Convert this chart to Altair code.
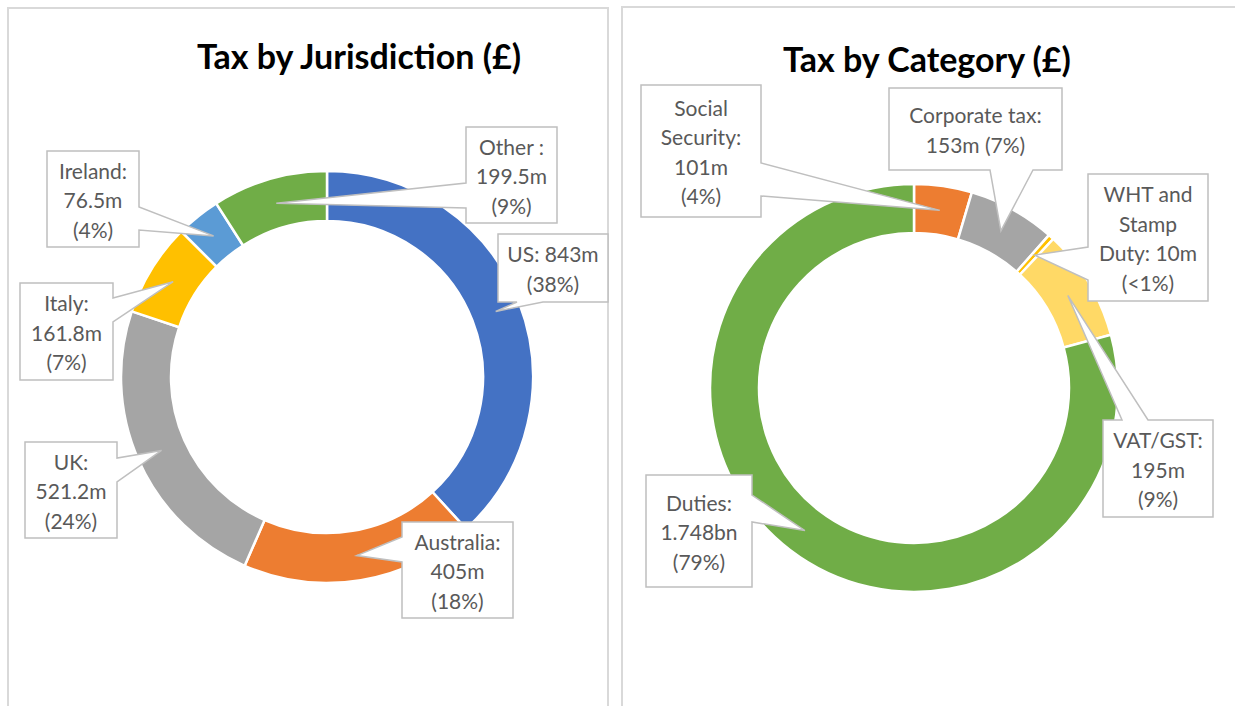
import math
import altair as alt
import pandas as pd

# ---------------- data ----------------
jur_names = ["US", "Australia", "UK", "Italy", "Ireland", "Other"]
jur_values = [843, 405, 521.2, 161.8, 76.5, 199.5]
jur_labels = ["US: 843m\n(38%)", "Australia:\n405m\n(18%)", "UK:\n521.2m\n(24%)",
              "Italy:\n161.8m\n(7%)", "Ireland:\n76.5m\n(4%)", "Other :\n199.5m\n(9%)"]

cat_names = ["Social Security", "Corporate tax", "WHT and Stamp Duty", "VAT/GST", "Duties"]
cat_values = [101, 153, 10, 195, 1748]
cat_labels = ["Social\nSecurity:\n101m\n(4%)", "Corporate tax:\n153m (7%)",
              "WHT and\nStamp\nDuty: 10m\n(<1%)", "VAT/GST:\n195m\n(9%)", "Duties:\n1.748bn\n(79%)"]

titles = ["Tax by Jurisdiction (£)", "Tax by Category (£)"]

# ---------------- styles / layout ----------------
jur_colors = ["#4472C4", "#ED7D31", "#A5A5A5", "#FFC000", "#5B9BD5", "#70AD47"]
cat_colors = ["#ED7D31", "#A5A5A5", "#FFC000", "#FFD966", "#70AD47"]

W, H = 1235, 706
LEFT = dict(cx=327, cy=377, r_out=206, r_in=156)
RIGHT = dict(cx=914, cy=388, r_out=204, r_in=155)
LINE_H = 29.5

# callout boxes: (x0, y0, x1, y1, side of wedge, wedge base start, wedge base end)
jur_boxes = [
    (498, 234, 608, 302, "bottom", 517, 543),
    (402, 522, 513, 618, "left", 537, 562),
    (25, 442, 117, 538, "right", 458, 482),
    (20, 283, 113, 380, "right", 298, 322),
    (47, 151, 139, 247, "right", 207, 230),
    (466, 127, 557, 223, "left", 183, 208),
]
cat_boxes = [
    (641, 85, 761, 217, "right", 163, 196),
    (889, 88, 1062, 170, "bottom", 990, 1033),
    (1088, 174, 1208, 301, "left", 247, 280),
    (1103, 420, 1213, 517, "top", 1122, 1148),
    (646, 475, 752, 587, "right", 495, 522),
]

panels = pd.DataFrame({"x0": [8, 622], "x1": [608, 1300], "y0": [8, 7], "y1": [800, 800]})
title_pos = pd.DataFrame({"t": titles, "x": [359, 927], "y": [69, 72]})


def tips(values, geo):
    total = sum(values)
    r = (geo["r_out"] + geo["r_in"]) / 2
    out, cum = [], 0
    for v in values:
        a = (cum + v / 2) / total * 2 * math.pi
        out.append((geo["cx"] + r * math.sin(a), geo["cy"] - r * math.cos(a)))
        cum += v
    return out


def callout(box, tip):
    x0, y0, x1, y1, side, a, b = box
    pts = [(x0, y0)]
    if side == "top":
        pts += [(a, y0), tip, (b, y0)]
    pts += [(x1, y0)]
    if side == "right":
        pts += [(x1, a), tip, (x1, b)]
    pts += [(x1, y1)]
    if side == "bottom":
        pts += [(b, y1), tip, (a, y1)]
    pts += [(x0, y1)]
    if side == "left":
        pts += [(x0, b), tip, (x0, a)]
    pts.append((x0, y0))
    return [[float(p[0]), float(p[1])] for p in pts]


features = []
label_rows = []
for names, values, labels, boxes, geo in [
    (jur_names, jur_values, jur_labels, jur_boxes, LEFT),
    (cat_names, cat_values, cat_labels, cat_boxes, RIGHT),
]:
    for n, lab, box, tip in zip(names, labels, boxes, tips(values, geo)):
        features.append({"type": "Feature",
                         "geometry": {"type": "Polygon", "coordinates": [callout(box, tip)]},
                         "properties": {"name": n}})
        nlines = lab.count("\n") + 1
        cy = (box[1] + box[3]) / 2
        label_rows.append({"label": lab, "x": (box[0] + box[2]) / 2,
                           "y": cy - (nlines - 1) / 2 * LINE_H + 3})

labels_df = pd.DataFrame(label_rows)

X = lambda f: alt.X(f, scale=None, axis=None)
Y = lambda f: alt.Y(f, scale=None, axis=None)

panel_layer = alt.Chart(panels).mark_rect(fillOpacity=0, stroke="#D9D9D9", strokeWidth=2).encode(
    x=X("x0:Q"), x2="x1:Q", y=Y("y0:Q"), y2="y1:Q")

title_layer = alt.Chart(title_pos).mark_text(
    font="Lato", fontSize=34, fontWeight="bold", color="#000000", align="center", baseline="alphabetic"
).encode(x=X("x:Q"), y=Y("y:Q"), text="t:N")


def donut(names, values, colors, geo):
    df = pd.DataFrame({"name": names, "value": values, "ord": list(range(len(names)))})
    return alt.Chart(df).mark_arc(
        innerRadius=geo["r_in"], outerRadius=geo["r_out"], stroke="white", strokeWidth=2.5
    ).encode(
        theta=alt.Theta("value:Q", stack=True),
        order=alt.Order("ord:Q"),
        color=alt.Color("name:N", scale=alt.Scale(domain=names, range=colors), legend=None),
        x=alt.value(geo["cx"]), y=alt.value(geo["cy"]),
    )


donut_left = donut(jur_names, jur_values, jur_colors, LEFT)
donut_right = donut(cat_names, cat_values, cat_colors, RIGHT)

callout_layer = alt.Chart(alt.Data(values=features)).mark_geoshape(
    fill="white", stroke="#BFBFBF", strokeWidth=1.5
).project(type="identity", scale=1, translate=[0, 0])

text_layer = alt.Chart(labels_df).mark_text(
    font="Lato", fontSize=21, color="#595959", align="center", baseline="middle",
    lineBreak="\n", lineHeight=LINE_H
).encode(x=X("x:Q"), y=Y("y:Q"), text="label:N")

chart = alt.layer(
    panel_layer, title_layer, donut_left, donut_right, callout_layer, text_layer
).resolve_scale(theta="independent", color="independent").properties(
    width=W, height=H, padding=0, autosize="none", background="white"
).configure_view(stroke=None)

chart.save("out.html", embed_options={"renderer": "svg", "actions": False})
